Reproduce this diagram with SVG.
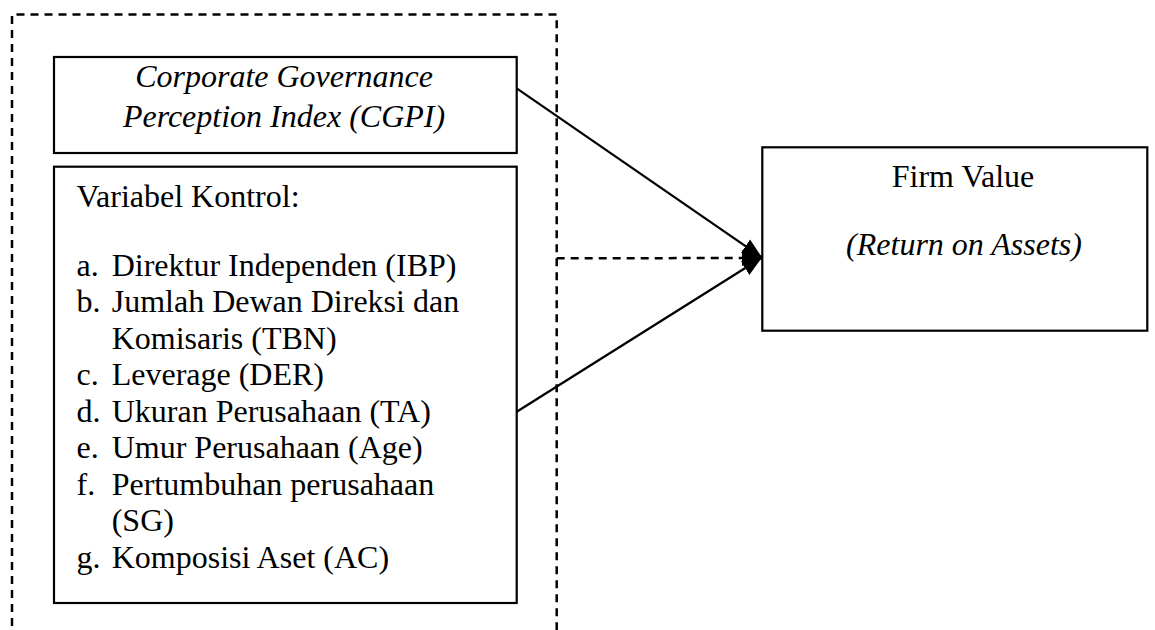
<svg xmlns="http://www.w3.org/2000/svg" width="1155" height="630" viewBox="0 0 1155 630">
<style>
.box{fill:#fff;stroke:#000;stroke-width:2.2}
text{font-family:'Liberation Serif',serif;font-size:32px;fill:#000}
.i{font-style:italic}
.c{text-anchor:middle}
.dash{fill:none;stroke:#000;stroke-width:2.5;stroke-dasharray:8 6}
.arr{fill:none;stroke:#000;stroke-width:2.2}
</style>
<defs>
<marker id="ah" markerUnits="userSpaceOnUse" markerWidth="22" markerHeight="20" refX="20" refY="10" orient="auto">
<path d="M0,2 L20,10 L0,18 Z" fill="#000"/>
</marker>
</defs>
<g id="group-boundary">
<path class="dash" d="M12,640 L12,14.5 L556.7,14.5 L556.7,640"/>
</g>
<g id="node-cgpi" font-family="Liberation Serif, serif">
<rect class="box" x="54" y="57" width="462.7" height="96"/>
<text class="i c" x="284" y="86.7">Corporate Governance</text>
<text class="i c" x="284" y="126.7">Perception Index (CGPI)</text>
</g>
<g id="node-kontrol" font-family="Liberation Serif, serif">
<rect class="box" x="54" y="166.7" width="462.7" height="436.3"/>
<text x="76.5" y="206.7">Variabel Kontrol:</text>
<text x="76.5" y="275.5">a.</text><text x="111.7" y="275.5">Direktur Independen (IBP)</text>
<text x="76.5" y="312">b.</text><text x="111.7" y="312">Jumlah Dewan Direksi dan</text>
<text x="111.7" y="348.5">Komisaris (TBN)</text>
<text x="76.5" y="385">c.</text><text x="111.7" y="385">Leverage (DER)</text>
<text x="76.5" y="421.5">d.</text><text x="111.7" y="421.5">Ukuran Perusahaan (TA)</text>
<text x="76.5" y="458">e.</text><text x="111.7" y="458">Umur Perusahaan (Age)</text>
<text x="76.5" y="494.5">f.</text><text x="111.7" y="494.5">Pertumbuhan perusahaan</text>
<text x="111.7" y="531">(SG)</text>
<text x="76.5" y="567.5">g.</text><text x="111.7" y="567.5">Komposisi Aset (AC)</text>
</g>
<g id="node-firm-value" font-family="Liberation Serif, serif">
<rect class="box" x="762.3" y="147.3" width="385" height="183.4"/>
<text class="c" x="963" y="186.7">Firm Value</text>
<text class="i c" x="964" y="255">(Return on Assets)</text>
</g>
<g id="connectors">
<line class="arr" x1="516.7" y1="88.3" x2="762" y2="257.5" marker-end="url(#ah)"/>
<line class="arr" x1="516.7" y1="411.7" x2="762" y2="257.5" marker-end="url(#ah)"/>
<line class="dash" x1="556.7" y1="258.3" x2="762" y2="258" marker-end="url(#ah)"/>
</g>
</svg>
